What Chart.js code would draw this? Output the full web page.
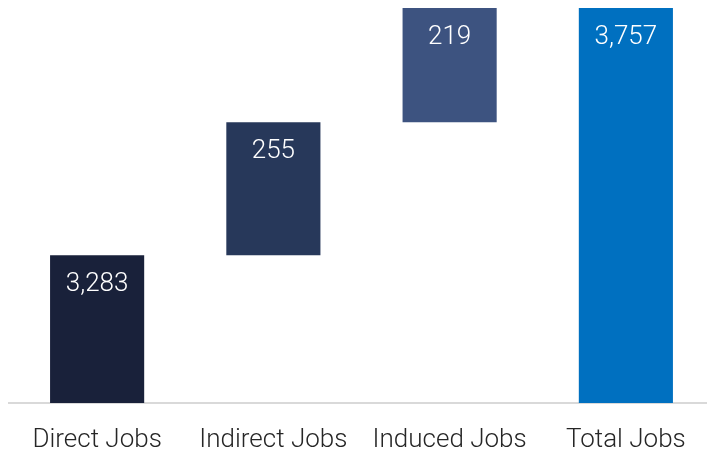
<!DOCTYPE html>
<html>
<head>
<meta charset="utf-8">
<script src="https://cdn.jsdelivr.net/npm/chart.js@4/dist/chart.umd.min.js"></script>
<style>
    html, body { margin: 0; padding: 0; background: #fff; overflow: hidden; }
    #wrap { width: 716px; height: 450px; }
</style>
</head>
<body>
<div id="wrap"><canvas id="chart" width="716" height="450"></canvas></div>
<script>
const categories = ['Direct Jobs', 'Indirect Jobs', 'Induced Jobs', 'Total Jobs']
const values = [3283, 255, 219, 3757]
const isTotal = [false, false, false, true]
const colors = ['#19213a', '#27385a', '#3d5380', '#0070c0']
const axisMin = 3000

// build floating ranges for the waterfall
const ranges = []
let running = axisMin
values.forEach((v, i) => {
    if (isTotal[i]) {
        ranges.push([axisMin, v])
    } else if (i === 0) {
        ranges.push([axisMin, v])
        running = v
    } else {
        ranges.push([running, running + v])
        running += v
    }
})

const valueLabels = {
    id: 'valueLabels',
    afterDatasetsDraw(chart) {
        const ctx = chart.ctx
        const meta = chart.getDatasetMeta(0)
        ctx.save()
        ctx.fillStyle = '#ffffff'
        ctx.font = '300 26px Roboto'
        ctx.textAlign = 'center'
        ctx.textBaseline = 'middle'
        meta.data.forEach((bar, i) => {
            const top = Math.min(bar.y, bar.base)
            ctx.fillText(values[i].toLocaleString('en-US'), bar.x, top + 29)
        })
        ctx.restore()
    }
}

new Chart(document.getElementById('chart'), {
    type: 'bar',
    data: {
        labels: categories,
        datasets: [{
            data: ranges,
            backgroundColor: colors,
            borderWidth: 0,
            borderSkipped: false,
            categoryPercentage: 1,
            barPercentage: 0.534
        }]
    },
    options: {
        responsive: false,
        animation: false,
        layout: { padding: { top: 8, left: 9, right: 2, bottom: 0 } },
        plugins: {
            legend: { display: false },
            tooltip: { enabled: false }
        },
        scales: {
            x: {
                grid: { display: false, drawTicks: false },
                border: { color: '#d9d9d9', width: 2 },
                ticks: {
                    color: '#262626',
                    font: { family: 'Roboto', size: 26, weight: '300' },
                    padding: 22
                },
                afterFit: (scale) => { scale.height = 47 }
            },
            y: {
                display: false,
                min: axisMin,
                max: 3757
            }
        }
    },
    plugins: [valueLabels]
})
</script>
</body>
</html>
